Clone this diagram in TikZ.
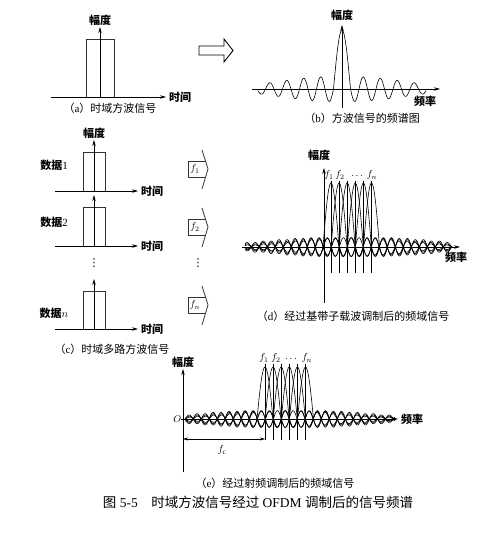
\documentclass[tikz,border=0pt]{standalone}
\usepackage{fontspec}
\setmainfont{Liberation Serif}
\newfontfamily\cjk{Noto Sans CJK SC}
\newfontfamily\symfont{DejaVu Sans}
\usetikzlibrary{arrows.meta}

\tikzset{
  axisline/.style={line width=0.7pt,-{Stealth[length=6pt,width=3.5pt]}},
  dimline/.style={line width=0.6pt,{Stealth[length=5pt,width=3pt]}-{Stealth[length=5pt,width=3pt]}},
  pulsebox/.style={line width=0.8pt,draw=black!80},
  wave/.style={line width=0.6pt},
  stick/.style={line width=0.6pt},
  lbl/.style={font=\cjk\bfseries\fontsize{11}{13}\selectfont,inner sep=1pt},
  capt/.style={font=\fontsize{11}{13}\selectfont,inner sep=1pt},
  vdotsmark/.style={font=\symfont\fontsize{11}{13}\selectfont,inner sep=0pt},
}

% square pulse on a time axis: name, axis left, axis right, half width, height
\newcommand{\squarepulse}[5]{%
  \coordinate (#1-o) at (0,0);
  \coordinate (#1-l) at (#2,0);
  \coordinate (#1-r) at (#3,0);
  \coordinate (#1-top) at (0,-#5-12);
  \draw[pulsebox] (-#4,0) rectangle (#4,-#5);
  \draw[axisline] (#1-l) -- (#1-r);
  \draw[axisline] (#1-o) -- (#1-top);
  \node[lbl,right=2pt] (#1-t) at (#1-r) {时间};
}

% carrier block with a chevron edge: name, centre y, label
\newcommand{\fblock}[3]{%
  \draw[pulsebox] (205.5,#2-8) -- (188,#2-8) -- (188,#2+8) -- (205.6,#2+8);
  \draw[pulsebox] (202,#2-19) -- (208,#2) -- (202,#2+20);
  \node[inner sep=0pt] (#1) at (195,#2) {$#3$};
}

% one sinc-like spectrum: centre, base, height, half width, side amp, from, to, decay
\newcommand{\carrier}[8]{%
  \draw[wave] plot[domain=#6:#7,samples=300]
    (\x,{#2-ifthenelse(abs(\x-#1)<#4,#3*cos(90/#4*(\x-#1)),
      #5*exp(-(((abs(\x-#1)/#4-1)/#8)^2))*sin(180/#4*abs(\x-#1)))});
}

\newcommand{\captext}[2]{{\cjk （}#1{\cjk ）#2}}

\begin{document}
\begin{tikzpicture}[x=1pt,y=-1pt]
  \useasboundingbox (0,0) rectangle (498,535);

  % (a) single pulse
  \begin{scope}[shift={(100,97)}]
    \squarepulse{a}{-49}{66}{14}{58}
  \end{scope}
  \node[lbl,above] (a-amp) at (a-top) {幅度};
  \node[capt] (a-cap) at (110,108) {\captext{a}{时域方波信号}};

  % hollow arrow
  \draw[line width=0.9pt] (199,46) -- (224,46) -- (224,39) -- (233,50.5)
    -- (224,62) -- (224,55) -- (199,55) -- cycle;

  % (b) spectrum of the pulse
  \coordinate (b-o) at (342,89);
  \coordinate (b-l) at (252,89);
  \coordinate (b-r) at (440,89);
  \coordinate (b-bot) at (342,108);
  \coordinate (b-top) at (342,25);
  \begin{scope}[line width=1pt]
    \carrier{342}{89}{59}{8.5}{12.5}{258}{426}{9}
  \end{scope}
  \draw[axisline] (b-l) -- (b-r);
  \draw[axisline] (b-bot) -- (b-top);
  \node[lbl] (b-amp) at (342,15) {幅度};
  \node[lbl] (b-freq) at (425,101) {频率};
  \node[capt] (b-cap) at (362,118) {\captext{b}{方波信号的频谱图}};

  % (c) parallel pulses
  \begin{scope}[shift={(94,191)}]
    \squarepulse{c1}{-39}{44}{11}{39}
  \end{scope}
  \begin{scope}[shift={(94,246)}]
    \squarepulse{c2}{-39}{44}{11}{39}
  \end{scope}
  \begin{scope}[shift={(94,329)}]
    \squarepulse{cn}{-39}{44}{11}{38}
  \end{scope}
  \node[lbl,above] (c-amp) at (c1-top) {幅度};
  \node[lbl] (c-d1) at (54,165) {数据{\rmfamily\mdseries 1}};
  \node[lbl] (c-d2) at (54,222) {数据{\rmfamily\mdseries 2}};
  \node[lbl] (c-dn) at (54,313) {数据$n$};
  \node[vdotsmark] (c-vdots) at (94,263) {⋮};
  \node[capt] (c-cap) at (112,349) {\captext{c}{时域多路方波信号}};

  \fblock{f1}{169}{f_1}
  \fblock{f2}{227}{f_2}
  \fblock{fn}{305}{f_n}
  \node[vdotsmark] (f-vdots) at (198,263) {⋮};

  % (d) baseband subcarriers
  \coordinate (d-o) at (324,247);
  \coordinate (d-l) at (242,247);
  \coordinate (d-r) at (460,247);
  \coordinate (d-bot) at (324,303);
  \coordinate (d-top) at (324,168);
  \foreach \k in {0,...,5}{
    \pgfmathsetmacro\fc{331+8.1*\k}
    \carrier{\fc}{247}{64}{8}{9.5}{245}{452}{11}
    \draw[stick] (\fc,181) -- (\fc,273);
  }
  \draw[axisline] (d-l) -- (d-r);
  \draw[axisline] (d-bot) -- (d-top);
  \node[lbl] (d-amp) at (319,155) {幅度};
  \node[lbl] (d-freq) at (456,257) {频率};
  \node (d-f1) at (329,175) {$f_1$};
  \node (d-f2) at (340,175) {$f_2$};
  \node (d-dots) at (357,176) {$\cdots$};
  \node (d-fn) at (372,175) {$f_n$};
  \node[capt] (d-cap) at (353,316) {\captext{d}{经过基带子载波调制后的频域信号}};

  % (e) after RF modulation
  \coordinate (e-o) at (183,419);
  \coordinate (e-l) at (181,419);
  \coordinate (e-r) at (398,419);
  \coordinate (e-bot) at (183,472);
  \coordinate (e-top) at (183,369);
  \foreach \k in {0,...,5}{
    \pgfmathsetmacro\fc{265+8.1*\k}
    \carrier{\fc}{419}{52}{8}{8.5}{185}{395}{11}
    \draw[stick] (\fc,364) -- (\fc,440);
  }
  \draw[axisline] (e-l) -- (e-r);
  \draw[axisline] (e-bot) -- (e-top);
  \node[lbl] (e-amp) at (183,362) {幅度};
  \node[lbl,right=2pt] (e-freq) at (e-r) {频率};
  \node[left=1.5pt,inner sep=0pt] (e-O) at (e-o) {$O$};
  \node (e-f1) at (264,358) {$f_1$};
  \node (e-f2) at (276,358) {$f_2$};
  \node (e-dots) at (291,359) {$\cdots$};
  \node (e-fn) at (307,358) {$f_n$};
  \coordinate (e-fcL) at (183,439);
  \coordinate (e-fcR) at (265,439);
  \draw[dimline] (e-fcL) -- (e-fcR);
  \node (e-fc) at (222,450) {$f_{\mathrm{c}}$};
  \node[capt] (e-cap) at (275,483) {\captext{e}{经过射频调制后的频域信号}};

  % figure caption
  \node[font=\fontsize{13.5}{16}\selectfont] (fig-cap) at (258,502)
    {{\cjk 图} 5-5\quad{\cjk 时域方波信号经过} OFDM {\cjk 调制后的信号频谱}};
\end{tikzpicture}
\end{document}
